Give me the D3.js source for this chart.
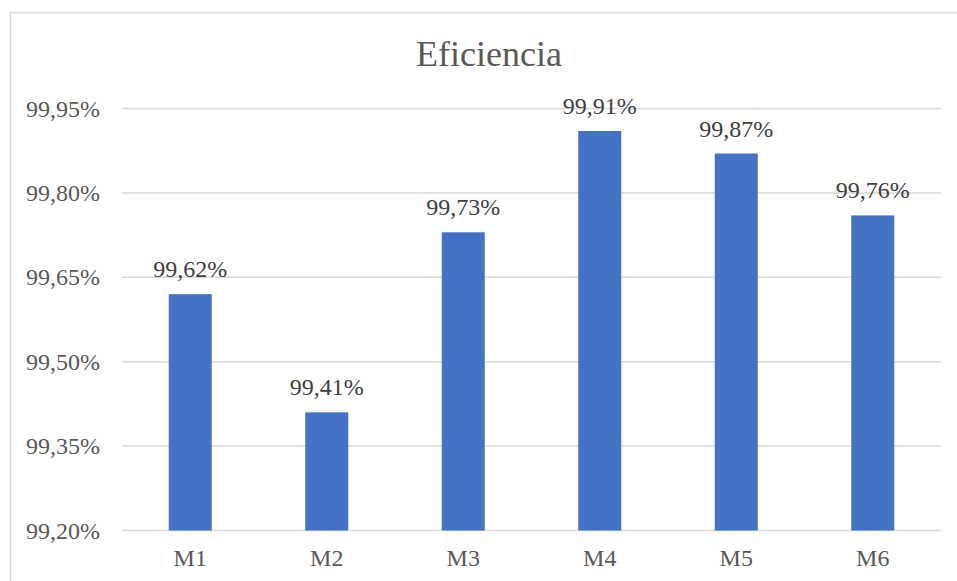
<!DOCTYPE html>
<html>
<head>
<meta charset="utf-8">
<script src="https://cdn.jsdelivr.net/npm/d3@7"></script>
<style>
  body { margin: 0; background: #fff; }
</style>
</head>
<body>
<div id="root"></div>
<script>
var categories = ['M1', 'M2', 'M3', 'M4', 'M5', 'M6'];
var values = [99.62, 99.41, 99.73, 99.91, 99.87, 99.76];
var yTicks = [99.20, 99.35, 99.50, 99.65, 99.80, 99.95];

var width = 957, height = 581;
var serif = "'Liberation Serif', 'Times New Roman', serif";
var fmt = v => v.toFixed(2).replace('.', ',') + '%';

var svg = d3.select('#root')
  .append('svg')
    .attr('width', width)
    .attr('height', height)
    .attr('font-family', serif);

// chart border (clipped on right and bottom in the original)
svg.append('rect')
  .attr('x', 10.5).attr('y', 12.5)
  .attr('width', 960).attr('height', 600)
  .attr('fill', 'none')
  .attr('stroke', '#d9d9d9')
  .attr('stroke-width', 1.5);

svg.append('text')
  .attr('x', 489)
  .attr('y', 66)
  .attr('text-anchor', 'middle')
  .attr('fill', '#595959')
  .style('font-family', serif)
  .style('font-size', '36px')
  .text('Eficiencia');

var y = d3.scaleLinear()
  .domain([99.20, 99.95])
  .range([530.5, 108.5]);

var x = d3.scaleBand()
  .domain(categories)
  .range([122, 941])
  .paddingInner(0.685)
  .paddingOuter(0.3425);

// gridlines
svg.selectAll('line.grid')
  .data(yTicks)
  .enter()
  .append('line')
    .attr('class', 'grid')
    .attr('x1', 122).attr('x2', 941)
    .attr('y1', d => y(d)).attr('y2', d => y(d))
    .attr('stroke', '#d9d9d9')
    .attr('stroke-width', 1.5);

// y labels
svg.selectAll('text.ytick')
  .data(yTicks)
  .enter()
  .append('text')
    .attr('class', 'ytick')
    .attr('x', 100)
    .attr('y', d => y(d) + 8)
    .attr('text-anchor', 'end')
    .attr('fill', '#595959')
    .style('font-family', serif)
    .style('font-size', '24px')
    .text(fmt);

svg.selectAll('rect.bar')
  .data(values)
  .enter()
  .append('rect')
    .attr('class', 'bar')
    .attr('x', (d, i) => x(categories[i]))
    .attr('y', d => y(d))
    .attr('width', x.bandwidth())
    .attr('height', d => y(99.20) - y(d))
    .attr('fill', '#4472c4');

svg.selectAll('text.val')
  .data(values)
  .enter()
  .append('text')
    .attr('class', 'val')
    .attr('x', (d, i) => x(categories[i]) + x.bandwidth() / 2)
    .attr('y', d => y(d) - 17)
    .attr('text-anchor', 'middle')
    .attr('fill', '#404040')
    .style('font-family', serif)
    .style('font-size', '24px')
    .text(fmt);

// x labels
svg.selectAll('text.xtick')
  .data(categories)
  .enter()
  .append('text')
    .attr('class', 'xtick')
    .attr('x', d => x(d) + x.bandwidth() / 2)
    .attr('y', 566)
    .attr('text-anchor', 'middle')
    .attr('fill', '#595959')
    .style('font-family', serif)
    .style('font-size', '24px')
    .text(d => d);
</script>
</body>
</html>
